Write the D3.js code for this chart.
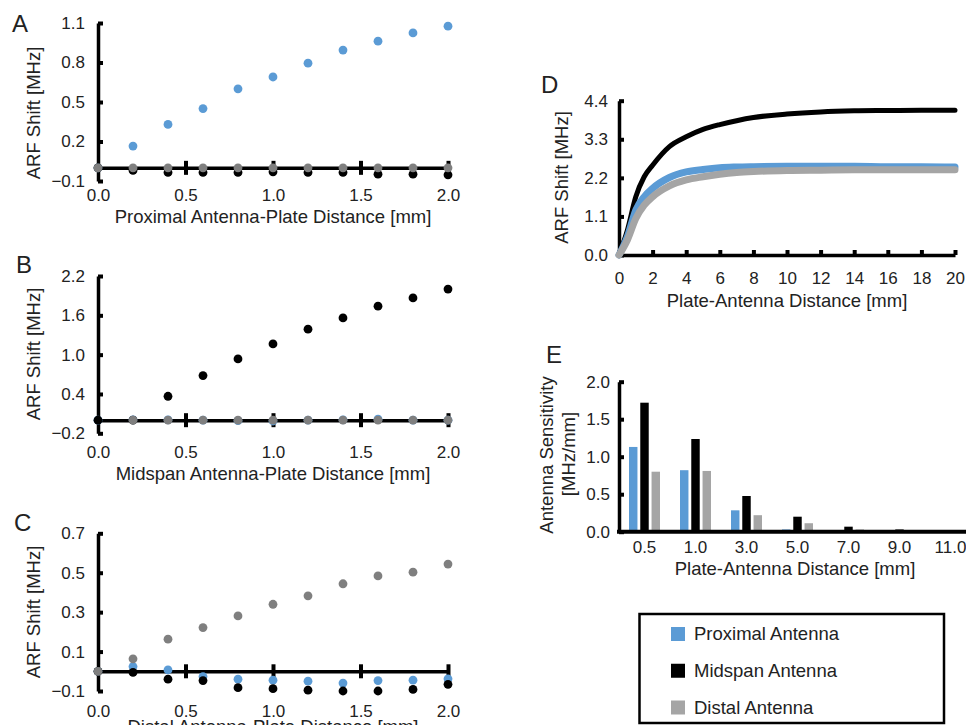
<!DOCTYPE html>
<html>
<head>
<meta charset="utf-8">
<script src="https://cdn.jsdelivr.net/npm/d3@7"></script>
<style>
body { margin: 0; background: #fff; }
svg { display: block; font-family: 'Liberation Sans', Arial, sans-serif; }
.tick text { font-size: 17px; fill: #222; }
.title { font-size: 18.5px; fill: #222; }
.letter { font-size: 24px; fill: #222; }
</style>
</head>
<body>
<div id="fig"></div>
<script>
// data
const seriesNames = ['Proximal Antenna', 'Midspan Antenna', 'Distal Antenna']
const platePos = [0, 0.2, 0.4, 0.6, 0.8, 1.0, 1.2, 1.4, 1.6, 1.8, 2.0]

// A: proximal antenna moved
const proxA = [0, 0.165, 0.33, 0.45, 0.60, 0.69, 0.795, 0.894, 0.962, 1.025, 1.076]
const midA = [0, -0.02, -0.035, -0.035, -0.035, -0.03, -0.035, -0.035, -0.048, -0.048, -0.053]
const distA = [0, 0, 0, 0, 0, 0, 0, 0, 0, 0, 0]
// B: midspan
const proxB = [0, 0.005, 0.005, 0, -0.008, -0.012, 0, 0.005, 0.015, 0, 0]
const midB = [0, 0, 0.365, 0.68, 0.935, 1.163, 1.388, 1.56, 1.74, 1.866, 2.0]
const distB = [null, 0, 0, 0, 0, 0, 0, 0, 0, 0, 0]
// C: distal
const proxC = [0, 0.024, 0.007, -0.027, -0.04, -0.045, -0.05, -0.06, -0.047, -0.045, -0.038]
const midC = [0, -0.006, -0.04, -0.047, -0.083, -0.088, -0.096, -0.1, -0.1, -0.092, -0.066]
const distC = [0, 0.063, 0.163, 0.222, 0.281, 0.34, 0.383, 0.444, 0.484, 0.503, 0.544]

// D: shift vs distance
const dDist = [0, 0.5, 1, 1.5, 2, 3, 4, 5, 6, 7, 8, 10, 12, 14, 16, 18, 20]
const dProx = [0, 0.52, 1.28, 1.66, 1.9, 2.21, 2.37, 2.44, 2.49, 2.51, 2.52, 2.53, 2.53, 2.53, 2.52, 2.52, 2.51]
const dMid = [0, 0.71, 1.66, 2.23, 2.56, 3.09, 3.37, 3.58, 3.72, 3.83, 3.92, 4.02, 4.08, 4.11, 4.12, 4.13, 4.13]
const dDistal = [0, 0.43, 1.04, 1.42, 1.66, 1.97, 2.14, 2.23, 2.3, 2.35, 2.38, 2.41, 2.42, 2.43, 2.43, 2.43, 2.43]

// E: sensitivity
const eCats = ['0.5', '1.0', '3.0', '5.0', '7.0', '9.0', '11.0']
const eProx = [1.13, 0.82, 0.285, 0.03, 0.005, 0.002, 0.002]
const eMid = [1.72, 1.236, 0.476, 0.2, 0.067, 0.03, 0.008]
const eDistal = [0.80, 0.81, 0.22, 0.113, 0.03, 0.008, 0.015]

const dotColors = ['#5b9bd5', '#000000', '#7f7f7f']
const fillColors = ['#5b9bd5', '#000000', '#a5a5a5']
const fmt = d3.format('.1f')

const svg = d3.select('#fig').append('svg')
    .attr('width', 966)
    .attr('height', 725)

function styleAxis(g, w) {
    g.select('.domain').attr('stroke', '#000').attr('stroke-width', w)
    g.selectAll('.tick line').attr('stroke', '#000').attr('stroke-width', 4)
}

function scatterPanel(cfg) {
    const x = d3.scaleLinear().domain([0, 2]).range([98, 448])
    const y = d3.scaleLinear().domain(cfg.yDomain).range(cfg.yRange)
    const g = svg.append('g')

    const ya = g.append('g').attr('transform', `translate(${x(0)},0)`)
        .call(d3.axisLeft(y).tickValues(cfg.yTicks).tickFormat(fmt)
            .tickSize(-5).tickSizeOuter(0).tickPadding(13))
    styleAxis(ya, 3.5)

    // tick labels below the plot
    const xl = g.append('g').attr('transform', `translate(0,${cfg.yRange[0]})`)
        .call(d3.axisBottom(x).tickValues([0, 0.5, 1, 1.5, 2]).tickFormat(fmt)
            .tickSize(0).tickPadding(cfg.labelPad))
    xl.select('.domain').remove()

    // zero line with crossing ticks
    const zl = g.append('g').attr('transform', `translate(0,${y(0)})`)
        .call(d3.axisBottom(x).tickValues([0.5, 1, 1.5, 2]).tickFormat('')
            .tickSizeOuter(0))
    styleAxis(zl, 3.5)
    zl.selectAll('.tick line').attr('y1', -7).attr('y2', 7)

    g.append('text').attr('class', 'title')
        .attr('x', (x(0) + x(2)) / 2).attr('y', cfg.titleY)
        .attr('text-anchor', 'middle').text(cfg.title)
    g.append('text').attr('class', 'title')
        .attr('transform', `translate(40,${cfg.ylabelY}) rotate(-90)`)
        .attr('text-anchor', 'middle').text('ARF Shift [MHz]')

    cfg.series.forEach((vals, i) => {
        g.append('g').selectAll('circle')
            .data(platePos.map((p, j) => [p, vals[j]]).filter(d => d[1] !== null))
            .enter().append('circle')
            .attr('cx', d => x(d[0]))
            .attr('cy', d => y(d[1]))
            .attr('r', 4.4)
            .attr('fill', dotColors[i])
    })
    g.append('text').attr('class', 'letter')
        .attr('x', cfg.letterX).attr('y', cfg.letterY).text(cfg.letter)
}

scatterPanel({
    yDomain: [-0.1, 1.1], yRange: [181, 23], yTicks: [-0.1, 0.2, 0.5, 0.8, 1.1],
    labelPad: 7.5, titleY: 223, ylabelY: 113,
    title: 'Proximal Antenna-Plate Distance [mm]',
    series: [proxA, midA, distA], letter: 'A', letterX: 12, letterY: 32
})
scatterPanel({
    yDomain: [-0.2, 2.2], yRange: [433.3, 276], yTicks: [-0.2, 0.4, 1.0, 1.6, 2.2],
    labelPad: 12.5, titleY: 480, ylabelY: 354,
    title: 'Midspan Antenna-Plate Distance [mm]',
    series: [proxB, midB, distB], letter: 'B', letterX: 16, letterY: 273
})
scatterPanel({
    yDomain: [-0.1, 0.7], yRange: [691, 533.3], yTicks: [-0.1, 0.1, 0.3, 0.5, 0.7],
    labelPad: 13.5, titleY: 733, ylabelY: 612,
    title: 'Distal Antenna-Plate Distance [mm]',
    series: [proxC, midC, distC], letter: 'C', letterX: 14, letterY: 531
})

// D
{
    const x = d3.scaleLinear().domain([0, 20]).range([619, 955])
    const y = d3.scaleLinear().domain([0, 4.4]).range([255, 100.7])
    const g = svg.append('g')
    const ya = g.append('g').attr('transform', `translate(${x(0)},0)`)
        .call(d3.axisLeft(y).tickValues([0, 1.1, 2.2, 3.3, 4.4]).tickFormat(fmt)
            .tickSize(-5).tickSizeOuter(0).tickPadding(11))
    styleAxis(ya, 3.5)
    const xa = g.append('g').attr('transform', `translate(0,${y(0)})`)
        .call(d3.axisBottom(x).tickValues(d3.range(0, 21, 2)).tickFormat(d3.format('d'))
            .tickSize(-5).tickSizeOuter(0).tickPadding(17))
    styleAxis(xa, 3.5)
    const line = d3.line().x(d => x(d[0])).y(d => y(d[1])).curve(d3.curveMonotoneX)
    const curves = [[dMid, 1, 5], [dProx, 0, 7], [dDistal, 2, 7]]
    curves.forEach(([vals, ci, w]) => {
        g.append('path')
            .attr('d', line(dDist.map((p, j) => [p, vals[j]])))
            .attr('fill', 'none')
            .attr('stroke', fillColors[ci])
            .attr('stroke-width', w)
            .attr('stroke-linecap', 'round')
    })
    g.append('text').attr('class', 'title')
        .attr('x', 787).attr('y', 306.5).attr('text-anchor', 'middle')
        .text('Plate-Antenna Distance [mm]')
    g.append('text').attr('class', 'title')
        .attr('transform', 'translate(568,177.5) rotate(-90)')
        .attr('text-anchor', 'middle').text('ARF Shift [MHz]')
    g.append('text').attr('class', 'letter').attr('x', 541).attr('y', 93).text('D')
}

// E
{
    const x0 = d3.scaleBand().domain(eCats).range([619, 619 + 51 * eCats.length])
    const x1 = d3.scaleBand().domain([0, 1, 2]).range([-15.5, 15.5]).paddingInner(0.25)
    const y = d3.scaleLinear().domain([0, 2]).range([531.7, 381.7])
    const g = svg.append('g')
    const vals = [eProx, eMid, eDistal]
    eCats.forEach((c, i) => {
        vals.forEach((v, s) => {
            g.append('rect')
                .attr('x', x0(c) + x0.bandwidth() / 2 + x1(s))
                .attr('y', y(v[i]))
                .attr('width', x1.bandwidth())
                .attr('height', y(0) - y(v[i]))
                .attr('fill', fillColors[s])
        })
    })
    const ya = g.append('g').attr('transform', 'translate(619,0)')
        .call(d3.axisLeft(y).tickValues([0, 0.5, 1, 1.5, 2]).tickFormat(fmt)
            .tickSize(-5).tickSizeOuter(0).tickPadding(9))
    styleAxis(ya, 3.5)
    const xa = g.append('g').attr('transform', `translate(0,${y(0)})`)
        .call(d3.axisBottom(x0).tickSize(0).tickPadding(9))
    xa.select('.domain').remove()
    g.append('line').attr('x1', 617).attr('x2', 966)
        .attr('y1', y(0)).attr('y2', y(0))
        .attr('stroke', '#000').attr('stroke-width', 4)
    g.append('text').attr('class', 'title')
        .attr('x', 795).attr('y', 575).attr('text-anchor', 'middle')
        .text('Plate-Antenna Distance [mm]')
    g.append('text').attr('class', 'title')
        .attr('transform', 'translate(553,455) rotate(-90)')
        .attr('text-anchor', 'middle').text('Antenna Sensitivity')
    g.append('text').attr('class', 'title')
        .attr('transform', 'translate(575,454) rotate(-90)')
        .attr('text-anchor', 'middle').text('[MHz/mm]')
    g.append('text').attr('class', 'letter').attr('x', 546).attr('y', 363).text('E')
}

// legend
{
    const g = svg.append('g')
    g.append('rect').attr('x', 639.5).attr('y', 614).attr('width', 304.5).attr('height', 109)
        .attr('fill', 'none').attr('stroke', '#000').attr('stroke-width', 2.5)
    const ly = d3.scalePoint().domain(seriesNames).range([634, 707.5])
    seriesNames.forEach((n, i) => {
        g.append('rect').attr('x', 671).attr('y', ly(n) - 7)
            .attr('width', 14).attr('height', 14).attr('fill', fillColors[i])
        g.append('text').attr('class', 'title')
            .attr('x', 694).attr('y', ly(n)).attr('dy', '0.35em').text(n)
    })
}
</script>
</body>
</html>
